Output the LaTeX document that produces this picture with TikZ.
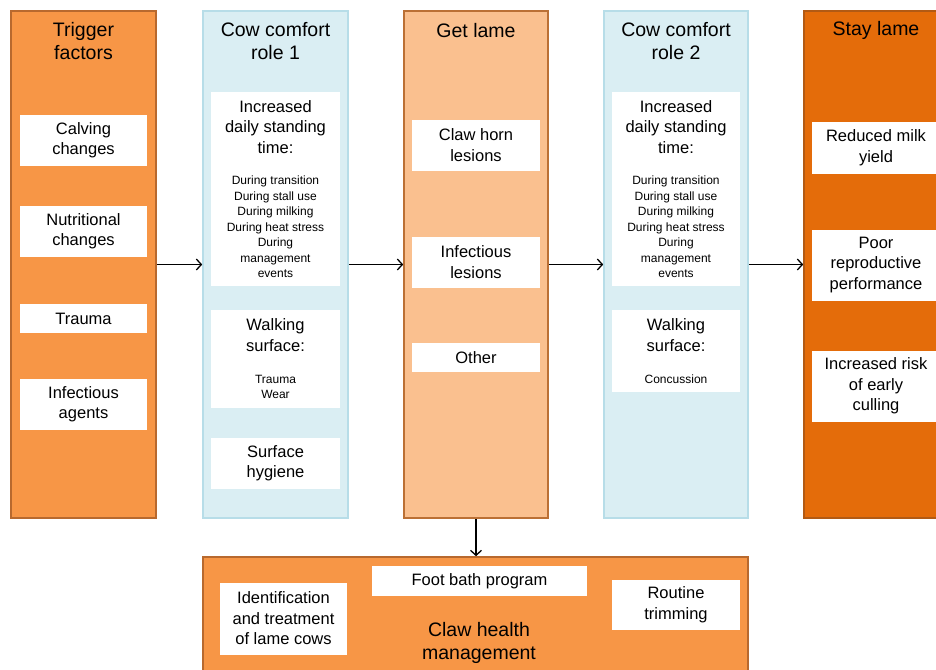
\documentclass[tikz,border=0pt]{standalone}
\usepackage{fontspec}
\setmainfont{Liberation Sans}
\usetikzlibrary{arrows.meta}
\definecolor{orgA}{HTML}{F79646}
\definecolor{orgAline}{HTML}{B8692E}
\definecolor{orgB}{HTML}{FAC08F}
\definecolor{orgBline}{HTML}{BB7035}
\definecolor{orgC}{HTML}{E46C0A}
\definecolor{orgCline}{HTML}{B25A14}
\definecolor{blueA}{HTML}{DAEEF3}
\definecolor{blueAline}{HTML}{B7DDE8}
\newcommand{\bigf}{\fontsize{19.5}{23}\selectfont}
\newcommand{\midf}{\fontsize{16.5}{20.5}\selectfont}
\newcommand{\smallf}{\fontsize{12}{15.5}\selectfont}
\tikzset{
  col/.style={draw, line width=1.6pt, inner sep=0pt, minimum height=507pt},
  ttl/.style={inner sep=0pt, align=center, font=\bigf},
  wbox/.style={fill=white, draw=none, inner sep=0pt, text width=#1, minimum width=#1, align=flush center, font=\midf},
  arr/.style={draw=black, line width=1.3pt, -{Straight Barb[length=5pt,width=11pt,line width=1.3pt]}}
}
\begin{document}
\begin{tikzpicture}[x=1pt,y=-1pt]
\useasboundingbox (0,0) rectangle (936,669);
\clip (0,0) rectangle (936,669);
% columns
\node[col, fill=orgA, draw=orgAline, minimum width=145pt] (c1) at (83.5,264.5) {};
\node[col, fill=blueA, draw=blueAline, minimum width=145pt] (c2) at (275.5,264.5) {};
\node[col, fill=orgB, draw=orgBline, minimum width=144pt] (c3) at (476,264.5) {};
\node[col, fill=blueA, draw=blueAline, minimum width=144pt] (c4) at (676,264.5) {};
\node[col, fill=orgC, draw=orgCline, minimum width=144pt] (c5) at (876,264.5) {};
\node[col, fill=orgA, draw=orgAline, minimum width=545pt, minimum height=143pt] (bot) at (475.5,628.5) {};
% titles
\node[ttl] (t1) at (83.5,41) {Trigger\\factors};
\node[ttl] (t2) at (275.5,41) {Cow comfort\\role 1};
\node[ttl] (t3) at (476,31) {Get lame};
\node[ttl] (t4) at (676,41) {Cow comfort\\role 2};
\node[ttl] (t5) at (876,30) {Stay lame};
% column 1
\node[wbox=127pt, minimum height=51pt] (calv) at (83.5,140) {Calving\\changes};
\node[wbox=127pt, minimum height=51pt] (nutr) at (83.5,231) {Nutritional\\changes};
\node[wbox=127pt, minimum height=29pt] (trau) at (83.5,318.5) {Trauma};
\node[wbox=127pt, minimum height=51pt] (infa) at (83.5,404) {Infectious\\agents};
% column 2
\node[wbox=129pt, minimum height=194pt] (stand1) at (275.5,189) {Increased\\daily standing\\time:\par\vspace{16pt}{\smallf During transition\\During stall use\\During milking\\During heat stress\\During\\management\\events\par}};
\node[wbox=129pt, minimum height=98pt] (walk1) at (275.5,359) {Walking\\surface:\par\vspace{16.5pt}{\smallf Trauma\\Wear\par}};
\node[wbox=129pt, minimum height=51pt] (hyg) at (275.5,463) {Surface\\hygiene};
% column 3
\node[wbox=128pt, minimum height=51pt] (horn) at (476,145) {Claw horn\\lesions};
\node[wbox=128pt, minimum height=51pt] (infl) at (476,262) {Infectious\\lesions};
\node[wbox=128pt, minimum height=29pt] (oth) at (476,357.5) {Other};
% column 4
\node[wbox=128pt, minimum height=194pt] (stand2) at (676,189) {Increased\\daily standing\\time:\par\vspace{16pt}{\smallf During transition\\During stall use\\During milking\\During heat stress\\During\\management\\events\par}};
\node[wbox=128pt, minimum height=82pt] (walk2) at (676,351) {Walking\\surface:\par\vspace{16.5pt}{\smallf Concussion\par}};
% column 5
\node[wbox=128pt, minimum height=52pt] (milk) at (876,147.5) {Reduced milk\\yield};
\node[wbox=128pt, minimum height=71pt] (repro) at (876,265) {Poor\\reproductive\\performance};
\node[wbox=128pt, minimum height=71pt] (cull) at (876,386) {Increased risk\\of early\\culling};
% bottom
\node[wbox=127pt, minimum height=72pt] (ident) at (283.5,618.5) {Identification\\and treatment\\of lame cows};
\node[wbox=215pt, minimum height=30pt] (foot) at (479.5,581) {Foot bath program};
\node[wbox=128pt, minimum height=50pt] (trim) at (676,604.5) {Routine\\trimming};
\node[ttl] (claw) at (479,643) {Claw health\\management};
% arrows
\draw[arr] (c1.east) -- (c2.west);
\draw[arr] (c2.east) -- (c3.west);
\draw[arr] (c3.east) -- (c4.west);
\draw[arr] (c4.east) -- (c5.west);
\draw[arr] (c3.south) -- (c3.south |- bot.north);
\end{tikzpicture}
\end{document}
